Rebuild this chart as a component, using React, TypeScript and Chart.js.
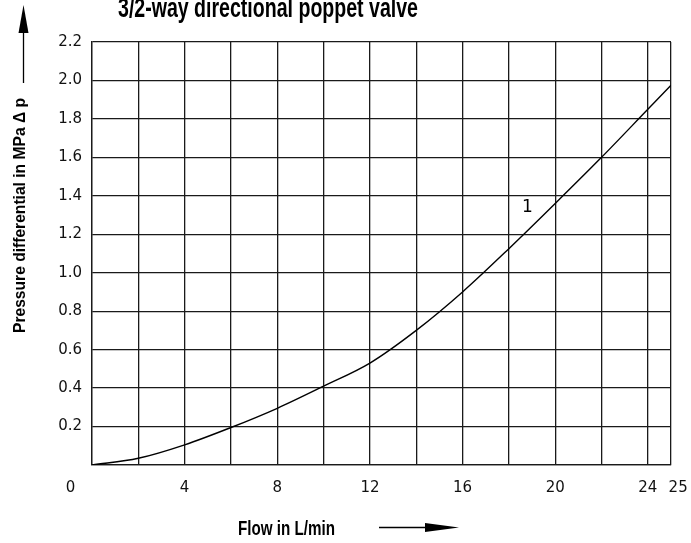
import React, { useEffect, useRef } from 'react';
import { Chart, registerables } from 'chart.js';

Chart.register(...registerables);

// ---- data ----
const flowLpm = [0, 2, 4, 6, 8, 10, 12, 14, 16, 18, 20, 22, 24, 25];
const pressureMPa = [0, 0.035, 0.105, 0.195, 0.295, 0.41, 0.53, 0.7, 0.9, 1.125, 1.36, 1.6, 1.85, 1.975];

const xGridValues = [0, 2, 4, 6, 8, 10, 12, 14, 16, 18, 20, 22, 24, 25];
const xLabelValues = [0, 4, 8, 12, 16, 20, 24, 25];
const yGridValues = [0, 0.2, 0.4, 0.6, 0.8, 1.0, 1.2, 1.4, 1.6, 1.8, 2.0, 2.2];

const chartTitle = '3/2-way directional poppet valve';
const yAxisTitle = 'Pressure differential in MPa \u0394 p';
const xAxisTitle = 'Flow in L/min';
const curveName = '1';
const curveNameAt = { x: 18.8, y: 1.337 };

const GRID = '#1a1a1a';
const TITLE_FONT = "'Liberation Sans Narrow', 'Liberation Sans', Arial, sans-serif";

function fitText(ctx: CanvasRenderingContext2D, text: string, width: number, font: string) {
  ctx.font = font;
  const w = ctx.measureText(text).width;
  ctx.save();
  ctx.scale(width / w, 1);
  ctx.textAlign = 'left';
  ctx.textBaseline = 'alphabetic';
  ctx.fillText(text, 0, 0);
  ctx.restore();
}

const decorations = {
  id: 'decorations',
  afterDraw(chart: any) {
    const ctx: CanvasRenderingContext2D = chart.ctx;
    ctx.save();
    ctx.fillStyle = '#000';
    ctx.strokeStyle = '#000';

    // main title (partly cut at top)
    ctx.save();
    ctx.translate(118, 17);
    fitText(ctx, chartTitle, 300, `bold 27px ${TITLE_FONT}`);
    ctx.restore();

    // y axis title (rotated)
    ctx.save();
    ctx.translate(25, 333);
    ctx.rotate(-Math.PI / 2);
    fitText(ctx, yAxisTitle, 235, `bold 17px ${TITLE_FONT}`);
    ctx.restore();

    // x axis title
    ctx.save();
    ctx.translate(238, 535);
    fitText(ctx, xAxisTitle, 97, `bold 21px ${TITLE_FONT}`);
    ctx.restore();

    // y arrow
    ctx.lineWidth = 1.3;
    ctx.beginPath();
    ctx.moveTo(23.5, 83);
    ctx.lineTo(23.5, 30);
    ctx.stroke();
    ctx.beginPath();
    ctx.moveTo(23.5, 5);
    ctx.lineTo(28.5, 33);
    ctx.lineTo(18.5, 33);
    ctx.closePath();
    ctx.fill();

    // x arrow
    ctx.beginPath();
    ctx.moveTo(379, 527.5);
    ctx.lineTo(428, 527.5);
    ctx.stroke();
    ctx.beginPath();
    ctx.moveTo(459, 527.5);
    ctx.lineTo(425, 523);
    ctx.lineTo(425, 532);
    ctx.closePath();
    ctx.fill();

    // curve label
    const xs = chart.scales.x;
    const ys = chart.scales.y;
    ctx.font = "17px 'DejaVu Sans', sans-serif";
    ctx.textAlign = 'center';
    ctx.textBaseline = 'middle';
    ctx.fillText(curveName, xs.getPixelForValue(curveNameAt.x), ys.getPixelForValue(curveNameAt.y));
    ctx.restore();
  },
};

export default function App() {
  const canvasRef = useRef<HTMLCanvasElement | null>(null);

  useEffect(() => {
    const canvas = canvasRef.current;
    if (!canvas) return;
    const chart = new Chart(canvas, {
      type: 'scatter',
      data: {
        datasets: [
          {
            label: curveName,
            data: flowLpm.map((x, i) => ({ x, y: pressureMPa[i] })),
            showLine: true,
            borderColor: '#000',
            borderWidth: 1.4,
            pointRadius: 0,
            cubicInterpolationMode: 'monotone',
            fill: false,
          },
        ],
      },
      options: {
        animation: false,
        responsive: false,
        devicePixelRatio: 1,
        layout: { padding: { top: 42, right: 20, left: 0, bottom: 0 } },
        plugins: {
          legend: { display: false },
          title: { display: false },
          tooltip: { enabled: false },
        },
        scales: {
          x: {
            type: 'linear',
            min: 0,
            max: 25,
            afterBuildTicks: (scale: any) => {
              scale.ticks = xGridValues.map((v) => ({ value: v }));
            },
            afterFit: (scale: any) => {
              scale.height = 78;
              scale.paddingLeft = 0;
              scale.paddingRight = 0;
            },
            grid: { color: GRID, lineWidth: 1.3, drawTicks: false },
            border: { display: true, color: GRID, width: 1.3 },
            ticks: {
              autoSkip: false,
              maxRotation: 0,
              padding: 14,
              color: '#111',
              font: { family: "'DejaVu Sans', sans-serif", size: 15 },
              callback: (v: any) => {
                const n = Number(v);
                if (!xLabelValues.includes(n)) return '';
                if (n === 0) return '0' + ' '.repeat(9);
                if (n === 25) return '   25';
                return String(n);
              },
            },
          },
          y: {
            type: 'linear',
            min: 0,
            max: 2.2,
            afterBuildTicks: (scale: any) => {
              scale.ticks = yGridValues.map((v) => ({ value: v }));
            },
            afterFit: (scale: any) => {
              scale.width = 92;
              scale.paddingTop = 0;
              scale.paddingBottom = 0;
            },
            grid: { color: GRID, lineWidth: 1.3, drawTicks: false },
            border: { display: true, color: GRID, width: 1.3 },
            ticks: {
              padding: 10,
              color: '#111',
              font: { family: "'DejaVu Sans', sans-serif", size: 15 },
              callback: (v: any) => (Number(v) === 0 ? '' : Number(v).toFixed(1)),
            },
          },
        },
      },
      plugins: [decorations],
    } as any);
    return () => chart.destroy();
  }, []);

  return (
    <div style={{ position: 'absolute', left: 0, top: 0, width: 691, height: 543, background: '#fff' }}>
      <canvas ref={canvasRef} width={691} height={543} style={{ display: 'block', width: 691, height: 543 }} />
    </div>
  );
}
